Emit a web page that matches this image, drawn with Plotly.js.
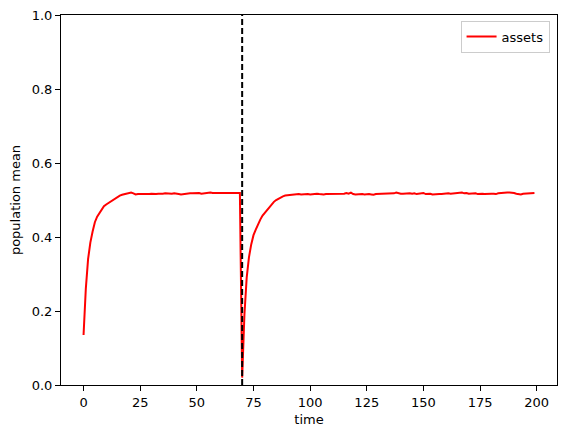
<!DOCTYPE html>
<html>
<head>
<meta charset="utf-8">
<script src="https://cdn.plot.ly/plotly-3.0.1.min.js"></script>
<style>html,body{margin:0;padding:0;background:#fff;}#chart{width:567px;height:438px;}</style>
</head>
<body>
<div id="chart"></div>
<script>
// population mean of "assets" over time
const assetsFirst = [
0.135,0.26,0.34,0.385,0.415,0.44,0.455,0.465,0.475,0.483,
0.488,0.492,0.496,0.500,0.505,0.509,0.512,0.514,0.515,0.516,
0.519,0.520,0.518,0.515,0.516,0.515,0.516,0.516,0.515,0.516,
0.517,0.516,0.516,0.517,0.516,0.517,0.518,0.517,0.516,0.517,
0.518,0.518,0.516,0.515,0.516,0.518,0.519,0.518,0.518,0.519,
0.518,0.519,0.517,0.518,0.518,0.519,0.520,0.519,0.519,0.520,
0.519,0.520,0.520,0.520,0.519,0.520,0.520,0.519,0.519,0.519
];
const assetsRecovery = [
0.02,0.19,0.29,0.345,0.38,0.405,0.42,0.435,0.447,0.458,
0.466,0.473,0.48,0.488,0.495,0.5,0.504,0.507,0.51,0.512,
0.513,0.514,0.515,0.515,0.516
];
const assetsLate = [
0.516,0.515,0.516,0.516,0.516,0.515,0.516,0.517,0.517,0.516,
0.515,0.515,0.516,0.516,0.517,0.516,0.516,0.515,0.516,0.516,
0.517,0.519,0.517,0.520,0.516,0.515,0.516,0.516,0.516,0.515,
0.516,0.516,0.515,0.514,0.516,0.516,0.517,0.516,0.516,0.517,
0.518,0.517,0.518,0.520,0.518,0.517,0.517,0.518,0.517,0.518,
0.517,0.518,0.516,0.517,0.516,0.519,0.516,0.517,0.517,0.515,
0.516,0.515,0.516,0.516,0.517,0.517,0.518,0.517,0.518,0.517,
0.519,0.520,0.520,0.518,0.519,0.517,0.518,0.517,0.518,0.516,
0.517,0.517,0.516,0.517,0.518,0.517,0.517,0.516,0.518,0.519,
0.520,0.520,0.520,0.520,0.520,0.519,0.517,0.516,0.515,0.517,
0.517,0.517,0.518,0.518,0.519
];
const assets = assetsFirst.concat(assetsRecovery, assetsLate);
const time = assets.map((_, i) => i);
const shockTimes = [70];
const xTicks = [0, 25, 50, 75, 100, 125, 150, 175, 200];
const yTicks = [0.0, 0.2, 0.4, 0.6, 0.8, 1.0];
const yTickText = ['0.0', '0.2', '0.4', '0.6', '0.8', '1.0'];

const traces = [{
  x: time, y: assets, type: 'scatter', mode: 'lines', name: 'assets',
  line: {color: '#ff0000', width: 2}
}];

const shapes = shockTimes.map(t => ({
  type: 'line', xref: 'x', yref: 'paper', x0: t, x1: t, y0: 0, y1: 1,
  line: {color: '#000000', width: 2, dash: '6px,3px'}
}));

const font = {family: 'DejaVu Sans, sans-serif', size: 13, color: '#000'};
const layout = {
  width: 567, height: 438,
  margin: {l: 61, r: 10, t: 15, b: 53},
  paper_bgcolor: '#fff', plot_bgcolor: '#fff',
  font: font,
  showlegend: true,
  legend: {x: 0.985, y: 0.985, xanchor: 'right', yanchor: 'top',
    bordercolor: '#cccccc', borderwidth: 1, bgcolor: 'rgba(255,255,255,0.8)',
    font: font},
  xaxis: {
    range: [-9.95, 208.95], tickvals: xTicks, ticks: 'outside', ticklen: 5, tickwidth: 1,
    tickcolor: '#000', showgrid: false, zeroline: false, showline: true, linecolor: '#000',
    linewidth: 1, mirror: true, tickfont: font,
    title: {text: 'time', font: font, standoff: 6}
  },
  yaxis: {
    range: [0, 1], tickvals: yTicks, ticktext: yTickText, ticks: 'outside', ticklen: 5, tickwidth: 1,
    tickcolor: '#000', showgrid: false, zeroline: false, showline: true, linecolor: '#000',
    linewidth: 1, mirror: true, tickfont: font,
    title: {text: 'population mean', font: font, standoff: 8}
  },
  shapes: shapes
};
Plotly.newPlot('chart', traces, layout, {displayModeBar: false, staticPlot: true});
</script>
</body>
</html>
